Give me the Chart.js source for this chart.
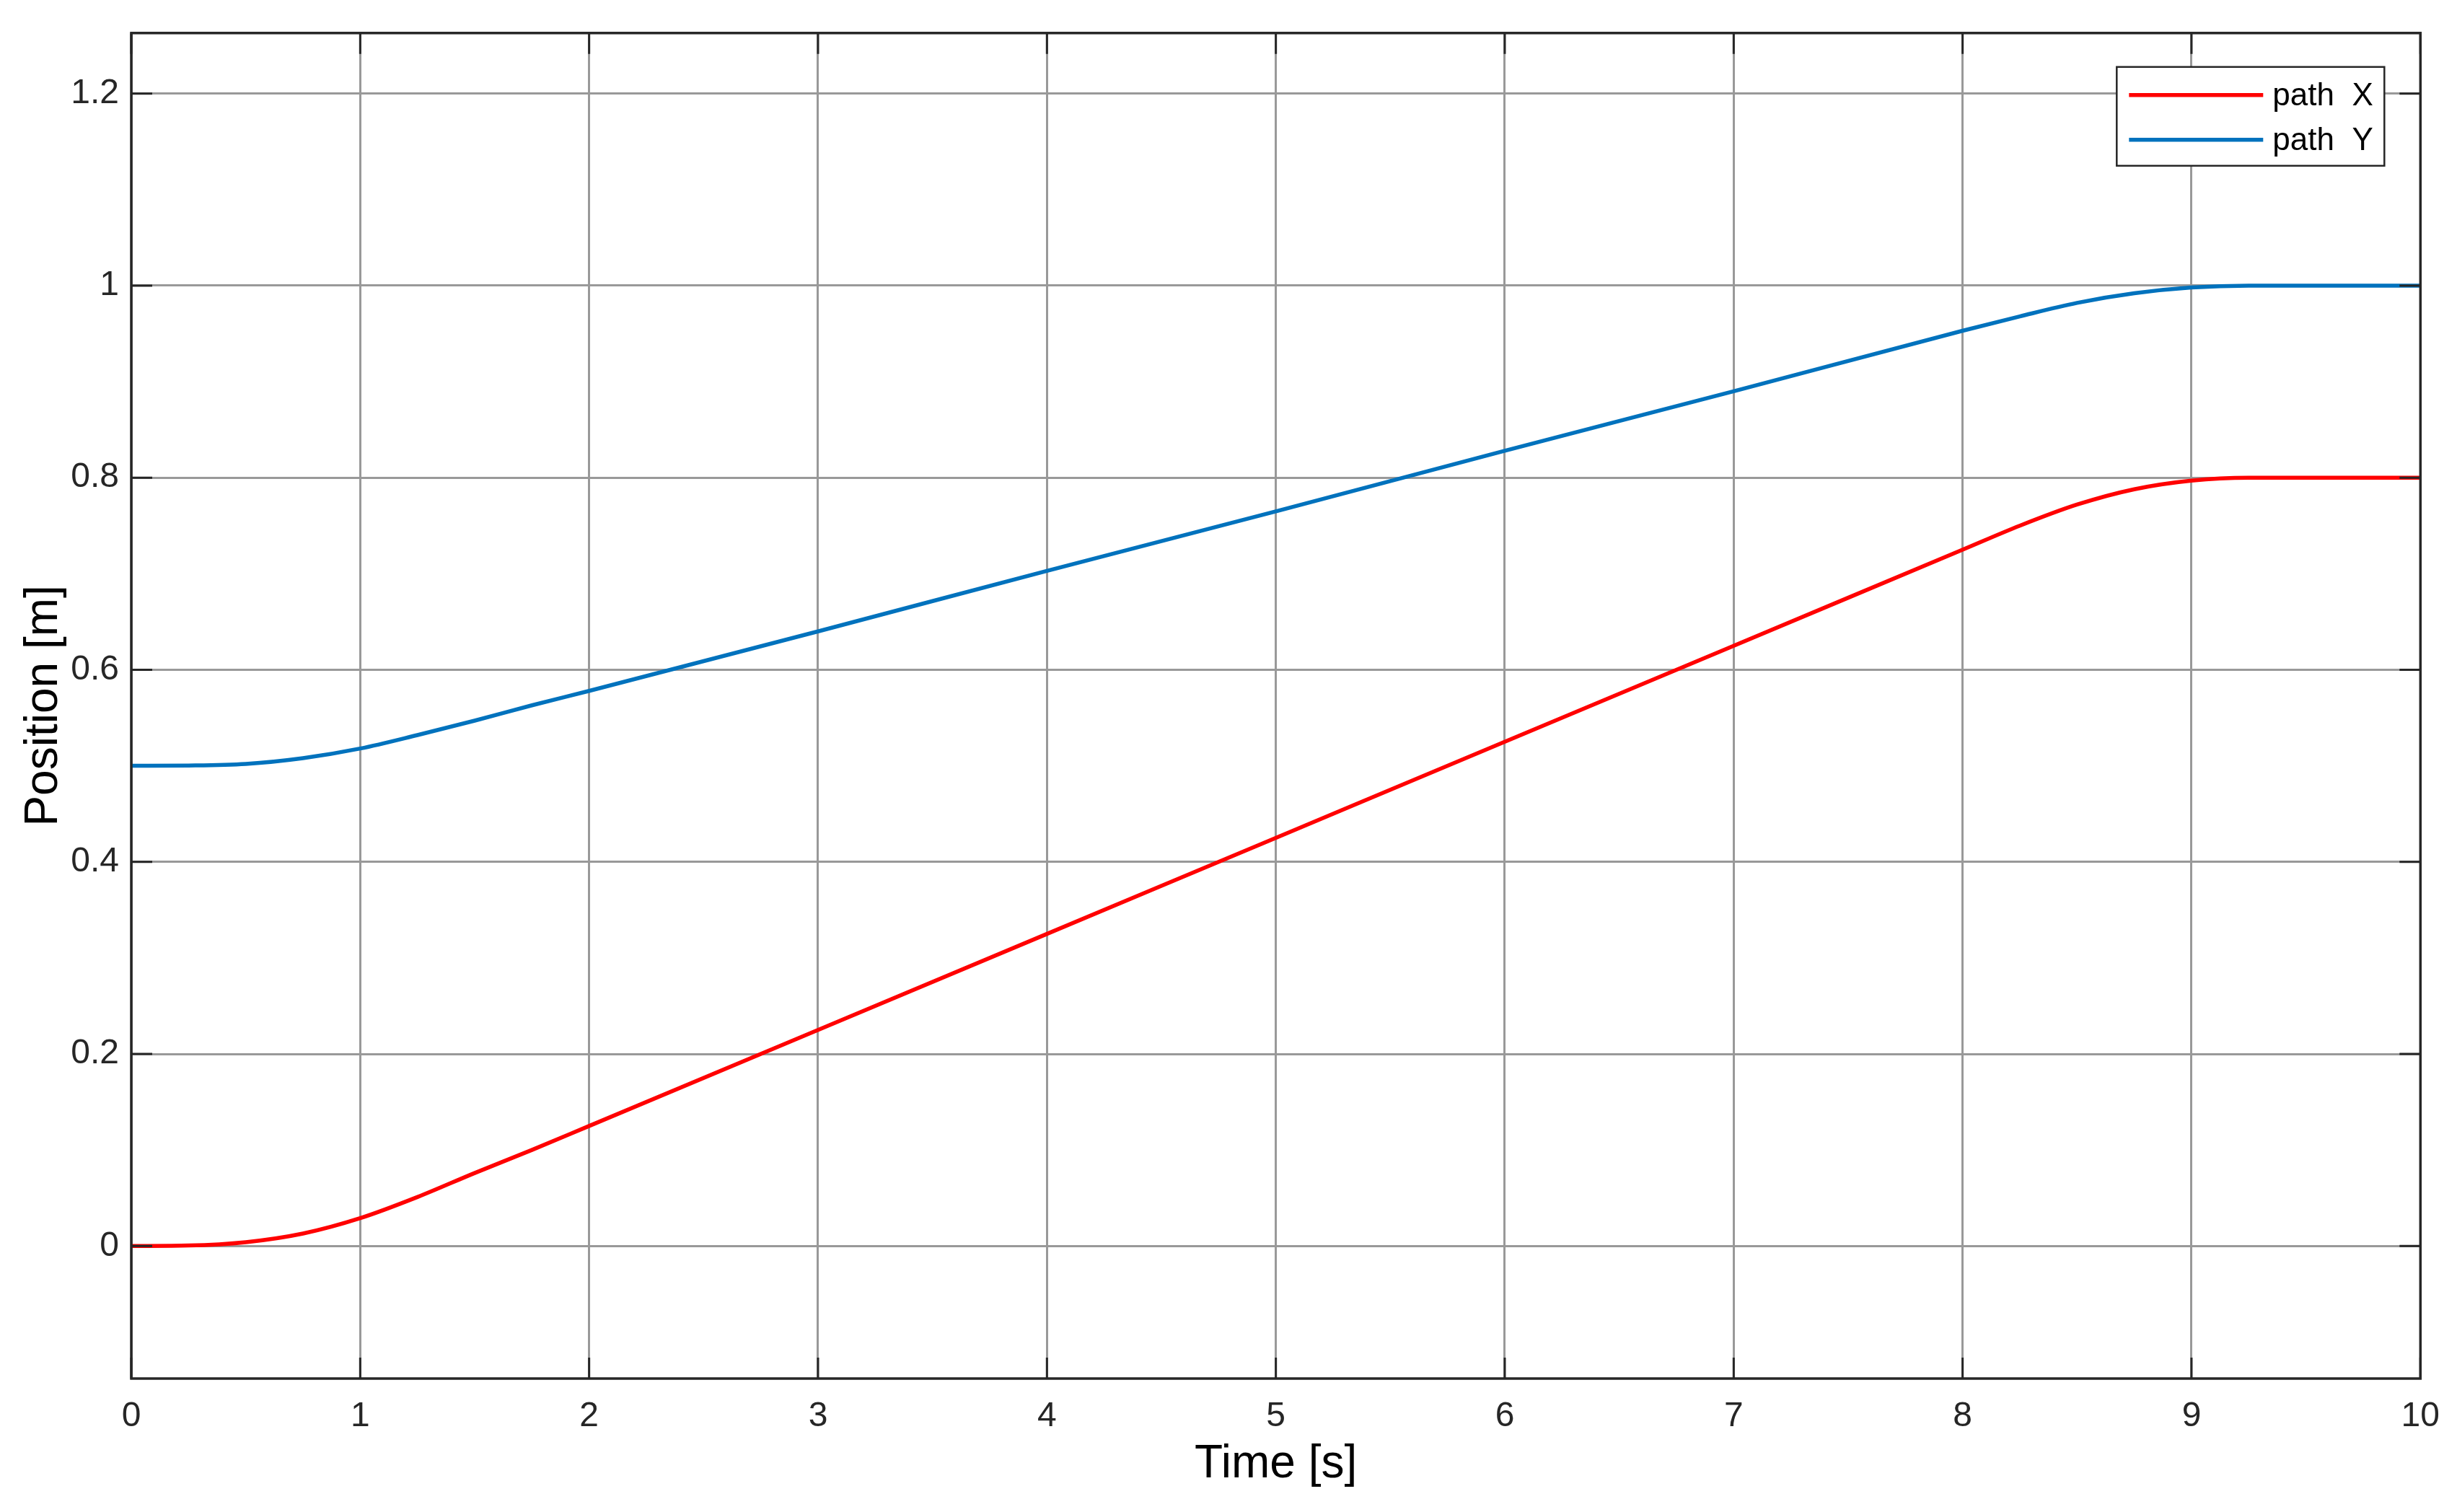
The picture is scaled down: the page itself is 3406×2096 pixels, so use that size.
<!DOCTYPE html>
<html>
<head>
<meta charset="utf-8">
<script src="https://cdn.jsdelivr.net/npm/chart.js@4.4.1/dist/chart.umd.min.js"></script>
<style>
  html, body { margin: 0; padding: 0; background: #fff; }
  canvas { display: block; }
</style>
</head>
<body>
<canvas id="canvas" width="3406" height="2096"></canvas>
<script>
// values
var times = [0, 0.25, 0.5, 0.75, 1, 1.25, 1.5, 1.75, 2, 3, 4, 5, 6, 7, 8, 8.25, 8.5, 8.75, 9, 9.25, 9.5, 10];
var pathX = [0, 0.0005, 0.004, 0.013, 0.029, 0.051, 0.076, 0.100, 0.125, 0.225, 0.325, 0.425, 0.525, 0.625, 0.725, 0.750, 0.772, 0.788, 0.797, 0.800, 0.800, 0.800];
var pathY = [0.5, 0.5003, 0.502, 0.508, 0.518, 0.532, 0.547, 0.563, 0.578, 0.640, 0.703, 0.765, 0.828, 0.890, 0.953, 0.968, 0.982, 0.992, 0.998, 1.0, 1.0, 1.0];
var seriesNames = ['path  X', 'path  Y'];
var xTicks = [0, 1, 2, 3, 4, 5, 6, 7, 8, 9, 10];
var yTicks = [0, 0.2, 0.4, 0.6, 0.8, 1, 1.2];
var yTickLabels = ['0', '0.2', '0.4', '0.6', '0.8', '1', '1.2'];

var AXIS = '#262626';
var GRID = '#999999';
var FONT = '"Liberation Sans", Arial, Helvetica, sans-serif';

function toPoints(ys) {
	return times.map(function (t, i) { return { x: t, y: ys[i] }; });
}

// box around the plot + inward tick marks on all four sides
var axesFrame = {
	id: 'axesFrame',
	afterDatasetsDraw: function (chart) {
		var ctx = chart.ctx, a = chart.chartArea;
		var xs = chart.scales.x, ys = chart.scales.y;
		var tl = 29;
		ctx.save();
		ctx.strokeStyle = AXIS;
		ctx.lineWidth = 3;
		ctx.beginPath();
		xs.ticks.forEach(function (t) {
			var px = xs.getPixelForValue(t.value);
			ctx.moveTo(px, a.bottom); ctx.lineTo(px, a.bottom - tl);
			ctx.moveTo(px, a.top); ctx.lineTo(px, a.top + tl);
		});
		ys.ticks.forEach(function (t) {
			var py = ys.getPixelForValue(t.value);
			ctx.moveTo(a.left, py); ctx.lineTo(a.left + tl, py);
			ctx.moveTo(a.right, py); ctx.lineTo(a.right - tl, py);
		});
		ctx.stroke();
		ctx.lineWidth = 3.5;
		ctx.strokeRect(a.left, a.top, a.right - a.left, a.bottom - a.top);
		ctx.restore();
	}
};

// MATLAB-style legend inside the top right corner
var legendBox = {
	id: 'legendBox',
	afterDraw: function (chart) {
		var ctx = chart.ctx, a = chart.chartArea;
		var x0 = a.right - 421, y0 = a.top + 47, w = 371, h = 137;
		ctx.save();
		ctx.fillStyle = '#fff';
		ctx.fillRect(x0, y0, w, h);
		ctx.strokeStyle = AXIS;
		ctx.lineWidth = 2.5;
		ctx.strokeRect(x0, y0, w, h);
		ctx.font = '44px ' + FONT;
		ctx.textBaseline = 'middle';
		ctx.textAlign = 'left';
		chart.data.datasets.forEach(function (ds, i) {
			var yy = y0 + 39 + i * 62;
			ctx.strokeStyle = ds.borderColor;
			ctx.lineWidth = ds.borderWidth;
			ctx.beginPath();
			ctx.moveTo(x0 + 17, yy);
			ctx.lineTo(x0 + 203, yy);
			ctx.stroke();
			ctx.fillStyle = '#000';
			ctx.fillText(ds.label, x0 + 216, yy + 2);
		});
		ctx.restore();
	}
};

window.onload = function () {
	var ctx = document.getElementById('canvas').getContext('2d');
	window.myChart = new Chart(ctx, {
		type: 'line',
		data: {
			datasets: [{
				label: seriesNames[0],
				data: toPoints(pathX),
				borderColor: '#ff0000',
				borderWidth: 5.5,
				pointRadius: 0,
				fill: false,
				cubicInterpolationMode: 'monotone'
			}, {
				label: seriesNames[1],
				data: toPoints(pathY),
				borderColor: '#0072bd',
				borderWidth: 5.5,
				pointRadius: 0,
				fill: false,
				cubicInterpolationMode: 'monotone'
			}]
		},
		options: {
			responsive: false,
			animation: false,
			devicePixelRatio: 1,
			layout: { padding: { left: 0, right: 48, top: 39, bottom: 0 } },
			plugins: {
				legend: { display: false },
				tooltip: { enabled: false }
			},
			scales: {
				x: {
					type: 'linear',
					min: 0,
					max: 10,
					afterBuildTicks: function (scale) {
						scale.ticks = xTicks.map(function (v) { return { value: v }; });
					},
					afterFit: function (scale) { scale.height = 185; },
					grid: { color: GRID, lineWidth: 3, drawTicks: false },
					border: { display: false },
					ticks: {
						color: AXIS,
						padding: 24,
						maxRotation: 0,
						font: { family: FONT, size: 48 }
					},
					title: {
						display: true,
						text: 'Time [s]',
						color: '#000',
						font: { family: FONT, size: 64 },
						padding: { top: 0, bottom: 27 }
					}
				},
				y: {
					type: 'linear',
					min: -0.138,
					max: 1.263,
					afterBuildTicks: function (scale) {
						scale.ticks = yTicks.map(function (v) { return { value: v }; });
					},
					afterFit: function (scale) { scale.width = 182; },
					grid: { color: GRID, lineWidth: 3, drawTicks: false },
					border: { display: false },
					ticks: {
						color: AXIS,
						padding: 17,
						font: { family: FONT, size: 48 },
						callback: function (value) {
							var i = yTicks.indexOf(value);
							return i >= 0 ? yTickLabels[i] : '';
						}
					},
					title: {
						display: true,
						text: 'Position [m]',
						color: '#000',
						font: { family: FONT, size: 64 },
						padding: { top: 23, bottom: 0 }
					}
				}
			}
		},
		plugins: [axesFrame, legendBox]
	});
};
</script>
</body>
</html>
